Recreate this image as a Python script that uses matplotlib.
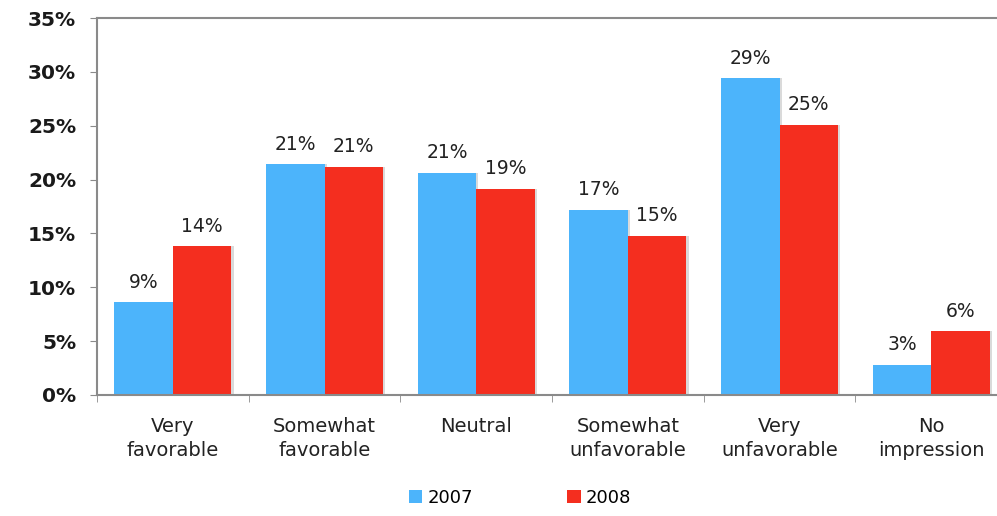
import matplotlib
matplotlib.use("Agg")
import matplotlib.pyplot as plt
import numpy as np

categories = ["Very\nfavorable", "Somewhat\nfavorable", "Neutral",
              "Somewhat\nunfavorable", "Very\nunfavorable", "No\nimpression"]
series_names = ["2007", "2008"]
values_2007 = [8.6, 21.4, 20.6, 17.2, 29.4, 2.8]
values_2008 = [13.8, 21.2, 19.1, 14.8, 25.1, 5.9]
y_ticks = [0, 5, 10, 15, 20, 25, 30, 35]

colors = ["#4cb4fb", "#f42e1f"]
grey = "#8a8a8a"

fig = plt.figure(figsize=(9.97, 5.16), dpi=100)
ax = fig.add_axes([97 / 997, 121 / 516, 910 / 997, 377 / 516])

x = np.arange(len(categories))
w = 0.385
for i, (vals, c, name) in enumerate(zip([values_2007, values_2008], colors, series_names)):
    offs = (i - 0.5) * w
    # soft shadow behind each bar
    ax.bar(x + offs + 0.015, vals, w, color="#dadada", zorder=1)
    ax.bar(x + offs, vals, w, color=c, label=name, zorder=2)
    for xi, v in zip(x, vals):
        ax.text(xi + offs, v + 1.0, f"{v:.0f}%", ha="center", va="bottom",
                fontsize=13.5, color="#222222", zorder=3)

ax.set_xlim(-0.5, len(categories) - 0.5)
ax.set_ylim(0, 35)
ax.set_yticks(y_ticks)
ax.set_yticklabels([f"{t}%" for t in y_ticks], fontsize=14.5, fontweight="bold",
                   color="#1a1a1a")
ax.set_xticks(x)
ax.set_xticklabels(categories, fontsize=14, color="#222222", linespacing=1.35)
ax.tick_params(axis="x", length=0, pad=16)
ax.set_xticks(np.arange(-0.5, len(categories)), minor=True)
ax.tick_params(axis="x", which="minor", length=5, color=grey, direction="out")
ax.tick_params(axis="y", length=5, color=grey, direction="out", pad=10)

for s in ["left", "top", "bottom"]:
    ax.spines[s].set_color(grey)
    ax.spines[s].set_linewidth(1.5)
ax.spines["right"].set_visible(False)

handles, labels = ax.get_legend_handles_labels()
fig.legend(handles, labels, loc="center", bbox_to_anchor=(520 / 997, 1 - 498 / 516),
           ncol=2, frameon=False, fontsize=13, handlelength=0.75, handleheight=0.75,
           columnspacing=5.2, handletextpad=0.3)

fig.savefig("out.png", dpi=100)
